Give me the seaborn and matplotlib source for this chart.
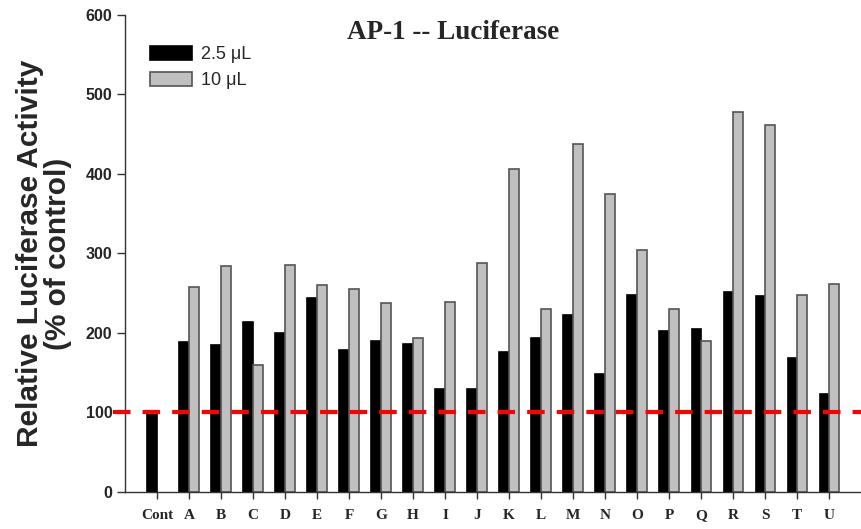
import numpy as np
import pandas as pd
import matplotlib
matplotlib.use("Agg")
import matplotlib.pyplot as plt
from matplotlib.patches import Patch
import seaborn as sns

# Samples and luciferase activity (% of control) for the two doses
categories = ["Cont", "A", "B", "C", "D", "E", "F", "G", "H", "I", "J",
              "K", "L", "M", "N", "O", "P", "Q", "R", "S", "T", "U"]
dose_low = [100, 188, 185, 214, 200, 244, 179, 190, 186, 129, 129,
            176, 193, 222, 148, 248, 203, 205, 251, 247, 168, 123]
dose_high = [np.nan, 258, 284, 160, 285, 260, 255, 238, 193, 239, 288,
             406, 230, 438, 375, 304, 230, 190, 478, 462, 248, 261]
dose_labels = ["2.5 \u03bcL", "10 \u03bcL"]
y_ticks = [0, 100, 200, 300, 400, 500, 600]
control_level = 100

fills = ["black", "#c0c0c0"]
edges = ["black", "#555555"]

df = pd.DataFrame({
    "sample": categories * 2,
    "dose": [dose_labels[0]] * len(categories) + [dose_labels[1]] * len(categories),
    "activity": dose_low + dose_high,
})

sns.set_style("ticks")
plt.rcParams["font.family"] = ["Liberation Sans", "DejaVu Sans"]

fig = plt.figure(figsize=(8.62, 5.29), dpi=100)
ax = fig.add_axes([0.145, 0.070, 0.854, 0.902])

sns.barplot(data=df, x="sample", y="activity", hue="dose", order=categories,
            hue_order=dose_labels, palette=fills, width=0.6,
            dodge=True, errorbar=None, saturation=1, legend=False, ax=ax)

# Outline the grey bars with a darker grey edge
for container, edge in zip(ax.containers, edges):
    for bar in container:
        bar.set_edgecolor(edge)
        bar.set_linewidth(1.2)

# Control reference level
ax.axhline(control_level, xmin=-0.016, xmax=1.0, color="red", lw=3,
           dashes=(4.2, 2.9), clip_on=False, zorder=5)

ax.set_xlim(-1, len(categories))
ax.set_ylim(0, 600)
ax.set_yticks(y_ticks)
ax.set_yticklabels([str(t) for t in y_ticks], fontsize=11.5, fontweight="bold")
ax.set_xticks(range(len(categories)))
ax.set_xticklabels(categories, fontsize=11, fontweight="bold",
                   family=["Liberation Serif", "DejaVu Serif"])
ax.tick_params(axis="y", length=6, width=1, color="#333333", pad=3)
ax.tick_params(axis="x", length=5, width=1, color="#333333", pad=7)
for side in ["top", "right"]:
    ax.spines[side].set_visible(False)
for side in ["left", "bottom"]:
    ax.spines[side].set_color("#333333")
    ax.spines[side].set_linewidth(1)

ax.set_xlabel("")
ax.set_ylabel("Relative Luciferase Activity\n(% of control)", fontsize=21.5,
              fontweight="bold", linespacing=1.0, labelpad=10)

ax.text(0.4457, 0.963, "AP-1 -- Luciferase", transform=ax.transAxes,
        ha="center", va="center", fontsize=19.5, fontweight="bold",
        family=["Liberation Serif", "DejaVu Serif"])

handles = [Patch(facecolor=f, edgecolor=e, linewidth=1.2)
           for f, e in zip(fills, edges)]
ax.legend(handles, dose_labels, loc="upper left", bbox_to_anchor=(0.034, 0.934),
          frameon=False, fontsize=13, handlelength=2.3, handleheight=0.75,
          handletextpad=0.55, labelspacing=0.5, borderaxespad=0,
          borderpad=0)

fig.savefig("out.png", dpi=100)
